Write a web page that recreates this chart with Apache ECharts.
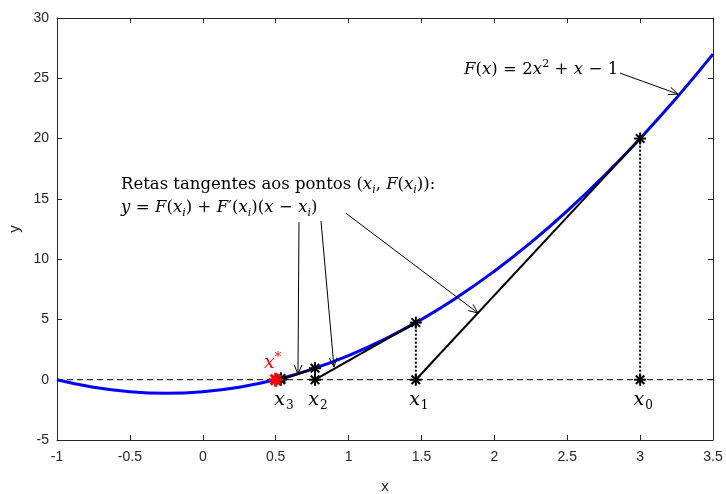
<!DOCTYPE html>
<html>
<head>
<meta charset="utf-8">
<script src="https://cdn.jsdelivr.net/npm/echarts@6/dist/echarts.min.js"></script>
<style>
  html, body { margin: 0; padding: 0; background: #fff; }
  #chart { width: 726px; height: 494px; }
</style>
</head>
<body>
<div id="chart"></div>
<script>
// curve F(x)
const curveX = [-1, -0.75, -0.5, -0.25, 0, 0.25, 0.5, 0.75, 1, 1.25, 1.5, 1.75, 2, 2.25, 2.5, 2.75, 3, 3.25, 3.5]
const curveY = [0, -0.625, -1, -1.125, -1, -0.625, 0, 0.875, 2, 3.375, 5, 6.875, 9, 11.375, 14, 16.875, 20, 23.375, 27]

// Newton iterates
const iterX = [3, 1.4615, 0.77, 0.536]
const iterF = [20, 4.734, 0.956, 0.11]
const iterSubs = ['0', '1', '2', '3']
const rootX = 0.5

// annotation arrows (data coords)
const arrowFrom = [[0.66, 13.07], [0.811, 13.16], [0.982, 13.81], [2.862, 25.43]]
const arrowTo = [[0.653, 0.47], [0.9, 1.05], [1.888, 5.53], [3.26, 23.69]]

const SERIF = '"DejaVu Serif", "Liberation Serif", serif'
const SANS = '"Liberation Sans", Arial, sans-serif'

const mathRich = {
  t: { fontFamily: SERIF, fontSize: 16.5, lineHeight: 22, verticalAlign: 'middle', fill: '#000' },
  i: { fontFamily: SERIF, fontSize: 16.5, fontStyle: 'italic', lineHeight: 22, verticalAlign: 'middle', fill: '#000' },
  s: { fontFamily: SERIF, fontSize: 11, fontStyle: 'italic', lineHeight: 11, verticalAlign: 'bottom', fill: '#000' },
  p: { fontFamily: SERIF, fontSize: 11, lineHeight: 11, verticalAlign: 'top', fill: '#000' },
}
const SP = '\u2004'

const notes = [
  { x: -0.561, y: 16.15, text: '{t|Retas tangentes aos pontos (}{i|x}{s|i}{t|, }{i|F}{t|(}{i|x}{s|i}{t|)):}' },
  { x: -0.561, y: 14.3, text: `{i|y}{t|${SP}=${SP}}{i|F}{t|(}{i|x}{s|i}{t|)${SP}+${SP}}{i|F}{t|′(}{i|x}{s|i}{t|)(}{i|x}{t|${SP}−${SP}}{i|x}{s|i}{t|)}` },
  { x: 1.792, y: 25.7, text: `{i|F}{t|(}{i|x}{t|)${SP}=${SP}2}{i|x}{p|2}{t|${SP}+${SP}}{i|x}{t|${SP}−${SP}1}` },
]

const labelRich = {
  x: { fontFamily: SERIF, fontSize: 19, fontStyle: 'italic', lineHeight: 24, verticalAlign: 'middle', fill: '#000' },
  s: { fontFamily: SERIF, fontSize: 12, lineHeight: 12, verticalAlign: 'bottom', fill: '#000', padding: [0, 0, 0, 1] },
  r: { fontFamily: SERIF, fontSize: 19, fontStyle: 'italic', lineHeight: 24, verticalAlign: 'middle', fill: '#ff0000' },
  rs: { fontFamily: SERIF, fontSize: 13, lineHeight: 13, verticalAlign: 'top', fill: '#ff0000' },
}

const chart = echarts.init(document.getElementById('chart'))

const starLines = (cx, cy, r, color, w) => {
  const d = r * 0.7071
  const segs = [[-r, 0, r, 0], [0, -r, 0, r], [-d, -d, d, d], [-d, d, d, -d]]
  return segs.map((s) => ({
    type: 'line',
    shape: { x1: cx + s[0], y1: cy + s[1], x2: cx + s[2], y2: cy + s[3] },
    style: { stroke: color, lineWidth: w },
  }))
}

const blackStars = []
iterX.forEach((x, i) => {
  blackStars.push([x, 0])
  blackStars.push([x, iterF[i]])
})

const axisBase = {
  type: 'value',
  axisLine: { show: true, onZero: false, lineStyle: { color: '#262626', width: 1 } },
  axisTick: { show: true, inside: true, length: 5, lineStyle: { color: '#262626' } },
  splitLine: { show: false },
}

const series = []

// dashed y = 0
series.push({
  type: 'line',
  data: [[-1, 0], [3.5, 0]],
  symbol: 'none',
  lineStyle: { color: '#000', width: 1, type: [6, 4] },
  z: 2,
})

// curve
series.push({
  type: 'line',
  data: curveX.map((x, i) => [x, curveY[i]]),
  smooth: true,
  symbol: 'none',
  lineStyle: { color: '#0000ff', width: 3 },
  z: 3,
})

// tangent segments + dotted verticals
for (let i = 0; i < iterX.length - 1; i++) {
  series.push({
    type: 'line',
    data: [[iterX[i], iterF[i]], [iterX[i + 1], 0]],
    symbol: 'none',
    lineStyle: { color: '#000', width: 2 },
    z: 4,
  })
  series.push({
    type: 'line',
    data: [[iterX[i], 0], [iterX[i], iterF[i]]],
    symbol: 'none',
    lineStyle: { color: '#000', width: 2, type: [2, 2] },
    z: 4,
  })
}

// asterisks
series.push({
  type: 'custom',
  data: blackStars,
  renderItem: (params, api) => {
    const p = api.coord([api.value(0), api.value(1)])
    return { type: 'group', children: starLines(p[0], p[1], 6, '#000', 2) }
  },
  z: 6,
})
series.push({
  type: 'custom',
  data: [[rootX, 0]],
  renderItem: (params, api) => {
    const p = api.coord([api.value(0), api.value(1)])
    return {
      type: 'group',
      children: starLines(p[0], p[1], 7, '#ff0000', 3).concat([{
        type: 'text', x: p[0] - 3, y: p[1] - 17,
        style: { text: '{r|x}{rs|*}', rich: labelRich, align: 'center', verticalAlign: 'middle' },
      }]),
    }
  },
  z: 7,
})

// iterate labels
series.push({
  type: 'custom',
  data: iterX.map((x) => [x, 0]),
  renderItem: (params, api) => {
    const p = api.coord([api.value(0), api.value(1)])
    return {
      type: 'text', x: p[0] + 3, y: p[1] + 20,
      style: { text: '{x|x}{s|' + iterSubs[params.dataIndex] + '}', rich: labelRich, align: 'center', verticalAlign: 'middle' },
    }
  },
  z: 6,
})

// arrows
series.push({
  type: 'custom',
  data: arrowFrom.map((a, i) => [a[0], a[1], arrowTo[i][0], arrowTo[i][1]]),
  renderItem: (params, api) => {
    const a = api.coord([api.value(0), api.value(1)])
    const b = api.coord([api.value(2), api.value(3)])
    const ang = Math.atan2(b[1] - a[1], b[0] - a[0])
    const L = 10, spread = 0.4
    const h1 = [b[0] - L * Math.cos(ang - spread), b[1] - L * Math.sin(ang - spread)]
    const h2 = [b[0] - L * Math.cos(ang + spread), b[1] - L * Math.sin(ang + spread)]
    return {
      type: 'group',
      children: [
        { type: 'line', shape: { x1: a[0], y1: a[1], x2: b[0], y2: b[1] }, style: { stroke: '#000', lineWidth: 1 } },
        { type: 'polyline', shape: { points: [h1, b, h2] }, style: { stroke: '#000', lineWidth: 1, fill: null } },
      ],
    }
  },
  z: 8,
})

// text notes
series.push({
  type: 'custom',
  data: notes.map((n) => [n.x, n.y]),
  renderItem: (params, api) => {
    const n = notes[params.dataIndex]
    const p = api.coord([api.value(0), api.value(1)])
    return {
      type: 'text', x: p[0], y: p[1],
      style: { text: n.text, rich: mathRich, fontFamily: SERIF, fontSize: 16, fill: '#000', align: 'left', verticalAlign: 'middle' },
    }
  },
  z: 9,
})

chart.setOption({
  animation: false,
  backgroundColor: '#fff',
  grid: { left: 57, right: 13, top: 18, bottom: 54, containLabel: false, outerBoundsMode: 'none' },
  xAxis: [
    {
      ...axisBase,
      position: 'bottom',
      min: -1, max: 3.5, interval: 0.5,
      axisLabel: { color: '#262626', fontSize: 14, fontFamily: SANS, margin: 10 },
      name: 'x', nameLocation: 'middle', nameGap: 39,
      nameTextStyle: { color: '#262626', fontSize: 15, fontFamily: SANS },
    },
    {
      ...axisBase,
      position: 'top',
      min: -1, max: 3.5, interval: 0.5,
      axisLabel: { show: false },
    },
  ],
  yAxis: [
    {
      ...axisBase,
      position: 'left',
      min: -5, max: 30, interval: 5,
      axisLabel: { color: '#262626', fontSize: 14, fontFamily: SANS, margin: 8 },
      name: 'y', nameLocation: 'middle', nameGap: 35,
      nameTextStyle: { color: '#262626', fontSize: 15, fontFamily: SANS },
    },
    {
      ...axisBase,
      position: 'right',
      min: -5, max: 30, interval: 5,
      axisLabel: { show: false },
    },
  ],
  series,
})

window.addEventListener('resize', () => {
  chart.resize()
})
</script>
</body>
</html>
